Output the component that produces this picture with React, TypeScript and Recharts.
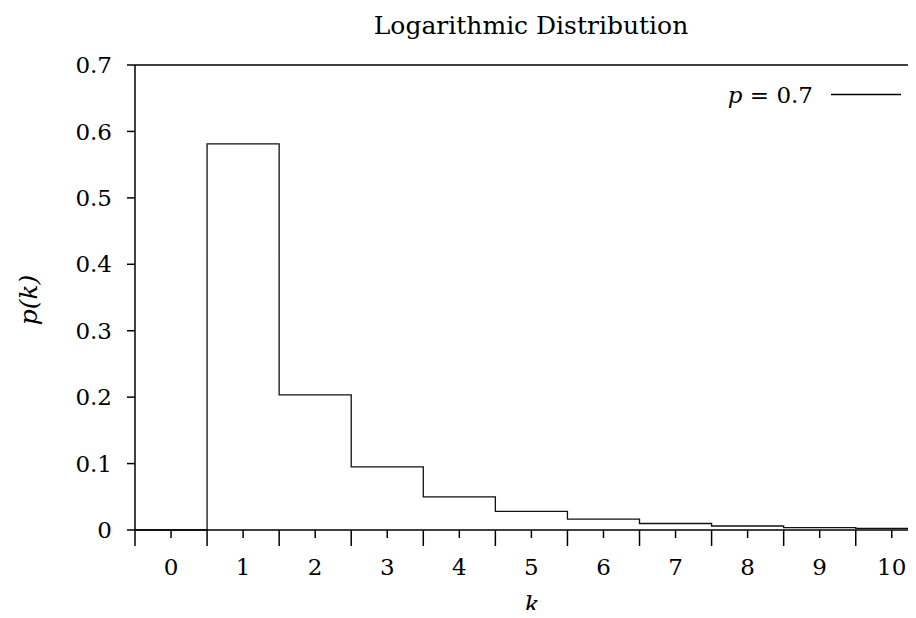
import React from 'react';
import { LineChart, Line, XAxis, YAxis, ReferenceLine, Legend } from 'recharts';

const kValues = [0, 1, 2, 3, 4, 5, 6, 7, 8, 9, 10];
const probabilities = [0, 0.5814, 0.2035, 0.095, 0.0499, 0.0279, 0.0163, 0.0098, 0.006, 0.0037, 0.0023];
const xTickLabels = ['0', '1', '2', '3', '4', '5', '6', '7', '8', '9', '10'];
const yTicks = [0, 0.1, 0.2, 0.3, 0.4, 0.5, 0.6, 0.7];
const yTickLabels = ['0', '0.1', '0.2', '0.3', '0.4', '0.5', '0.6', '0.7'];
const seriesName = 'p = 0.7';
const title = 'Logarithmic Distribution';

const lastK = kValues[kValues.length - 1];
const data = [
  ...kValues.map((k, i) => ({ x: k - 0.5, y: probabilities[i] })),
  { x: lastK + 0.5, y: probabilities[probabilities.length - 1] },
];
const xTicks = [...kValues.flatMap((k) => [k - 0.5, k]), lastK + 0.5];

const FONT = '"DejaVu Serif", serif';

const XTick = (props: any) => {
  const { x, y, payload } = props;
  const v = payload.value;
  const idx = kValues.indexOf(v);
  const isLabel = idx >= 0;
  return (
    <g>
      <line x1={x} x2={x} y1={y} y2={y + (isLabel ? 8 : 16)} stroke="#000" strokeWidth={1.5} />
      {isLabel && (
        <text x={x} y={y + 45} textAnchor="middle" fill="#000" style={{ fontFamily: FONT, fontSize: 23 }}>
          {xTickLabels[idx]}
        </text>
      )}
    </g>
  );
};

const LegendContent = (props: any) => {
  const name: string = props.payload && props.payload[0] ? String(props.payload[0].value) : seriesName;
  const first = name.charAt(0);
  const rest = name.slice(1);
  return (
    <svg width={210} height={50} style={{ display: 'block' }}>
      <text x={113} y={43} textAnchor="end" fill="#000" style={{ fontFamily: FONT, fontSize: 23, whiteSpace: 'pre' }}>
        <tspan style={{ fontStyle: 'italic' }}>{first}</tspan>
        <tspan>{rest}</tspan>
      </text>
      <line x1={131} x2={201} y1={34.5} y2={34.5} stroke="#000" strokeWidth={1.3} />
    </svg>
  );
};

export default function App() {
  return (
    <div style={{ width: 908, height: 610, overflow: 'hidden', marginBottom: -8 }}>
      <LineChart
        width={940}
        height={610}
        data={data}
        margin={{ top: 57, right: 20.2, bottom: 28, left: 0 }}
      >
        <XAxis
          type="number"
          dataKey="x"
          domain={[-0.5, 10.5]}
          ticks={xTicks}
          interval={0}
          allowDataOverflow
          height={60}
          tickSize={0}
          tickMargin={0}
          tickLine={false}
          axisLine={{ stroke: '#000', strokeWidth: 1.5 }}
          tick={<XTick />}
        />
        <YAxis
          type="number"
          domain={[0, 0.7]}
          ticks={yTicks}
          interval={0}
          width={127}
          tickSize={8}
          tickMargin={15}
          tickFormatter={(v: number) => yTickLabels[yTicks.indexOf(v)] ?? String(v)}
          tick={{ fill: '#000', fontSize: 23, style: { fontFamily: FONT } }}
          tickLine={{ stroke: '#000', strokeWidth: 1.5 }}
          axisLine={{ stroke: '#000', strokeWidth: 1.5 }}
        />
        <ReferenceLine y={0.7} stroke="#000" strokeWidth={1.5} ifOverflow="extendDomain" />
        <ReferenceLine x={10.5} stroke="#000" strokeWidth={1.5} />
        <Legend
          layout="horizontal"
          verticalAlign="middle"
          align="center"
          wrapperStyle={{ left: 692, top: 52, width: 210, height: 50 }}
          content={<LegendContent />}
        />
        <Line
          type="stepAfter"
          dataKey="y"
          name={seriesName}
          stroke="#111"
          strokeWidth={1.3}
          dot={false}
          activeDot={false}
          isAnimationActive={false}
        />
        <text x={523} y={26} textAnchor="middle" fill="#000" style={{ fontFamily: FONT, fontSize: 25 }}>
          {title}
        </text>
        <text
          transform="translate(29,292) rotate(-90)"
          x={0}
          y={0}
          textAnchor="middle"
          fill="#000"
          style={{ fontFamily: FONT, fontSize: 25, fontStyle: 'italic' }}
        >
          p(k)
        </text>
        <text x={524} y={605} textAnchor="middle" fill="#000" style={{ fontFamily: FONT, fontSize: 25, fontStyle: 'italic' }}>
          k
        </text>
      </LineChart>
    </div>
  );
}
